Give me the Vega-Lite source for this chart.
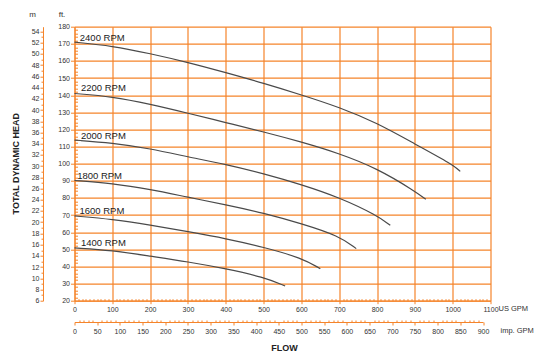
{
  "$schema": "https://vega.github.io/schema/vega-lite/v6.json",
  "width": 416,
  "height": 274,
  "autosize": {"type": "none"},
  "padding": {"left": 74.5, "top": 26.7, "right": 59.5, "bottom": 63.3},
  "background": "white",
  "title": {
    "text": "TOTAL DYNAMIC HEAD",
    "orient": "left",
    "anchor": "middle",
    "offset": 8,
    "font": "Liberation Sans",
    "fontSize": 9,
    "fontWeight": "bold",
    "color": "#222222"
  },
  "config": {
    "view": {"stroke": null},
    "axis": {
      "labelFont": "Liberation Sans",
      "labelFontSize": 7,
      "labelColor": "#333333",
      "titleFont": "Liberation Sans",
      "titleFontSize": 8,
      "titleFontWeight": "normal",
      "titleColor": "#333333",
      "domainColor": "#f5842a",
      "tickColor": "#f5842a",
      "gridColor": "#f5842a",
      "gridWidth": 1.2,
      "labelOverlap": false,
      "labelFlush": false
    }
  },
  "datasets": {
    "curves": [
      {"rpm": "2400", "gpm": 0, "ft": 171},
      {"rpm": "2400", "gpm": 100, "ft": 168.8},
      {"rpm": "2400", "gpm": 200, "ft": 164.3},
      {"rpm": "2400", "gpm": 300, "ft": 159.2},
      {"rpm": "2400", "gpm": 400, "ft": 153.2},
      {"rpm": "2400", "gpm": 500, "ft": 147},
      {"rpm": "2400", "gpm": 600, "ft": 140.2},
      {"rpm": "2400", "gpm": 700, "ft": 133},
      {"rpm": "2400", "gpm": 800, "ft": 123.8},
      {"rpm": "2400", "gpm": 900, "ft": 111.5},
      {"rpm": "2400", "gpm": 1000, "ft": 99.5},
      {"rpm": "2400", "gpm": 1020, "ft": 95.5},
      {"rpm": "2200", "gpm": 0, "ft": 141},
      {"rpm": "2200", "gpm": 100, "ft": 139.2},
      {"rpm": "2200", "gpm": 200, "ft": 134.8},
      {"rpm": "2200", "gpm": 300, "ft": 129.5},
      {"rpm": "2200", "gpm": 400, "ft": 124},
      {"rpm": "2200", "gpm": 500, "ft": 118.6},
      {"rpm": "2200", "gpm": 600, "ft": 112.7},
      {"rpm": "2200", "gpm": 700, "ft": 106},
      {"rpm": "2200", "gpm": 800, "ft": 97.3},
      {"rpm": "2200", "gpm": 900, "ft": 84},
      {"rpm": "2200", "gpm": 929, "ft": 79.2},
      {"rpm": "2000", "gpm": 0, "ft": 113.8},
      {"rpm": "2000", "gpm": 100, "ft": 112.2},
      {"rpm": "2000", "gpm": 200, "ft": 108.8},
      {"rpm": "2000", "gpm": 300, "ft": 104},
      {"rpm": "2000", "gpm": 400, "ft": 99.6},
      {"rpm": "2000", "gpm": 500, "ft": 94.2},
      {"rpm": "2000", "gpm": 600, "ft": 87.8},
      {"rpm": "2000", "gpm": 700, "ft": 80.3},
      {"rpm": "2000", "gpm": 800, "ft": 69.8},
      {"rpm": "2000", "gpm": 835, "ft": 64},
      {"rpm": "1800", "gpm": 0, "ft": 90.2},
      {"rpm": "1800", "gpm": 100, "ft": 88.5},
      {"rpm": "1800", "gpm": 200, "ft": 85},
      {"rpm": "1800", "gpm": 300, "ft": 80.4},
      {"rpm": "1800", "gpm": 400, "ft": 76.1},
      {"rpm": "1800", "gpm": 500, "ft": 71.2},
      {"rpm": "1800", "gpm": 600, "ft": 65},
      {"rpm": "1800", "gpm": 700, "ft": 57.8},
      {"rpm": "1800", "gpm": 745, "ft": 50.4},
      {"rpm": "1600", "gpm": 0, "ft": 69.5},
      {"rpm": "1600", "gpm": 100, "ft": 67.6},
      {"rpm": "1600", "gpm": 200, "ft": 64.2},
      {"rpm": "1600", "gpm": 300, "ft": 60.3},
      {"rpm": "1600", "gpm": 400, "ft": 56.3},
      {"rpm": "1600", "gpm": 500, "ft": 51.3},
      {"rpm": "1600", "gpm": 600, "ft": 45},
      {"rpm": "1600", "gpm": 650, "ft": 38.7},
      {"rpm": "1400", "gpm": 0, "ft": 50.8},
      {"rpm": "1400", "gpm": 100, "ft": 49.4},
      {"rpm": "1400", "gpm": 200, "ft": 46},
      {"rpm": "1400", "gpm": 300, "ft": 42.7},
      {"rpm": "1400", "gpm": 400, "ft": 38.7},
      {"rpm": "1400", "gpm": 500, "ft": 33.8},
      {"rpm": "1400", "gpm": 557, "ft": 28.6}
    ],
    "labels": [
      {"text": "2400 RPM", "gpm": 14, "ft": 173.2},
      {"text": "2200 RPM", "gpm": 17, "ft": 144},
      {"text": "2000 RPM", "gpm": 17, "ft": 116.3},
      {"text": "1800 RPM", "gpm": 7, "ft": 92.9},
      {"text": "1600 RPM", "gpm": 13, "ft": 72.2},
      {"text": "1400 RPM", "gpm": 17, "ft": 53.9}
    ],
    "frame": [
      {"imp": 0, "m": 6},
      {"imp": 900, "m": 54.864}
    ]
  },
  "layer": [
    {
      "data": {"name": "curves"},
      "mark": {"type": "line", "interpolate": "basis", "stroke": "#4a4a4a", "strokeWidth": 1.2},
      "encoding": {
        "x": {
          "field": "gpm", "type": "quantitative",
          "scale": {"domain": [0, 1100], "nice": false, "zero": false},
          "axis": {
            "orient": "bottom",
            "format": "d",
            "values": [0,10,20,30,40,50,60,70,80,90,100,110,120,130,140,150,160,170,180,190,200,210,220,230,240,250,260,270,280,290,300,310,320,330,340,350,360,370,380,390,400,410,420,430,440,450,460,470,480,490,500,510,520,530,540,550,560,570,580,590,600,610,620,630,640,650,660,670,680,690,700,710,720,730,740,750,760,770,780,790,800,810,820,830,840,850,860,870,880,890,900,910,920,930,940,950,960,970,980,990,1000,1010,1020,1030,1040,1050,1060,1070,1080,1090,1100],
            "labelExpr": "datum.value % 100 === 0 ? datum.label : ''",
            "gridOpacity": {"condition": {"test": "datum.value % 100 === 0", "value": 1}, "value": 0},
            "tickSize": {"condition": {"test": "datum.value % 100 === 0", "value": 3}, "value": -2},
            "labelPadding": 2,
            "title": "US GPM",
            "titleX": 423.5, "titleY": 8, "titleAlign": "left", "titleBaseline": "middle",
            "titleFontSize": 7.5
          }
        },
        "y": {
          "field": "ft", "type": "quantitative",
          "scale": {"domain": [20, 180], "nice": false, "zero": false},
          "axis": {
            "orient": "left",
            "format": "d",
            "values": [20,22,24,26,28,30,32,34,36,38,40,42,44,46,48,50,52,54,56,58,60,62,64,66,68,70,72,74,76,78,80,82,84,86,88,90,92,94,96,98,100,102,104,106,108,110,112,114,116,118,120,122,124,126,128,130,132,134,136,138,140,142,144,146,148,150,152,154,156,158,160,162,164,166,168,170,172,174,176,178,180],
            "labelExpr": "datum.value % 10 === 0 ? datum.label : ''",
            "gridOpacity": {"condition": {"test": "datum.value % 10 === 0", "value": 1}, "value": 0},
            "tickSize": {"condition": {"test": "datum.value % 10 === 0", "value": 4}, "value": -3},
            "labelPadding": 1,
            "title": "ft.",
            "titleAngle": 0, "titleX": -13, "titleY": -12, "titleAlign": "center", "titleBaseline": "middle"
          }
        },
        "detail": {"field": "rpm", "type": "nominal"}
      }
    },
    {
      "data": {"name": "labels"},
      "mark": {"type": "text", "align": "left", "baseline": "middle", "font": "Liberation Sans", "fontSize": 9.5, "color": "#222222"},
      "encoding": {
        "x": {"field": "gpm", "type": "quantitative", "scale": {"domain": [0, 1100], "nice": false, "zero": false}, "axis": null},
        "y": {"field": "ft", "type": "quantitative", "scale": {"domain": [20, 180], "nice": false, "zero": false}, "axis": null},
        "text": {"field": "text"}
      }
    },
    {
      "data": {"name": "frame"},
      "mark": {"type": "point", "opacity": 0},
      "encoding": {
        "x": {
          "field": "imp", "type": "quantitative",
          "scale": {"domain": [0, 900], "range": [0, 408.5], "nice": false, "zero": false},
          "axis": {
            "orient": "bottom",
            "format": "d",
            "offset": 21.3,
            "values": [0,10,20,30,40,50,60,70,80,90,100,110,120,130,140,150,160,170,180,190,200,210,220,230,240,250,260,270,280,290,300,310,320,330,340,350,360,370,380,390,400,410,420,430,440,450,460,470,480,490,500,510,520,530,540,550,560,570,580,590,600,610,620,630,640,650,660,670,680,690,700,710,720,730,740,750,760,770,780,790,800,810,820,830,840,850,860,870,880,890,900],
            "labelExpr": "datum.value % 50 === 0 ? datum.label : ''",
            "grid": false,
            "tickSize": {"condition": {"test": "datum.value % 50 === 0", "value": 3}, "value": -2},
            "labelPadding": 2,
            "title": "imp. GPM",
            "titleX": 425.5, "titleY": 8, "titleAlign": "left", "titleBaseline": "middle",
            "titleFontSize": 7.5
          }
        },
        "y": {
          "field": "m", "type": "quantitative",
          "scale": {"domain": [6, 54.864], "nice": false, "zero": false},
          "axis": {
            "orient": "left",
            "format": "d",
            "offset": 31.5,
            "values": [6,6.5,7,7.5,8,8.5,9,9.5,10,10.5,11,11.5,12,12.5,13,13.5,14,14.5,15,15.5,16,16.5,17,17.5,18,18.5,19,19.5,20,20.5,21,21.5,22,22.5,23,23.5,24,24.5,25,25.5,26,26.5,27,27.5,28,28.5,29,29.5,30,30.5,31,31.5,32,32.5,33,33.5,34,34.5,35,35.5,36,36.5,37,37.5,38,38.5,39,39.5,40,40.5,41,41.5,42,42.5,43,43.5,44,44.5,45,45.5,46,46.5,47,47.5,48,48.5,49,49.5,50,50.5,51,51.5,52,52.5,53,53.5,54,54.5],
            "labelExpr": "datum.value % 2 === 0 ? datum.label : ''",
            "grid": false,
            "tickSize": {"condition": {"test": "datum.value % 2 === 0", "value": 3}, "value": 2},
            "labelPadding": 1,
            "title": "m",
            "titleAngle": 0, "titleX": -11, "titleY": -12, "titleAlign": "center", "titleBaseline": "middle"
          }
        }
      }
    },
    {
      "data": {"name": "frame"},
      "mark": {"type": "point", "opacity": 0},
      "encoding": {
        "x": {
          "field": "imp", "type": "quantitative",
          "axis": {
            "orient": "bottom",
            "domain": false, "ticks": false, "labels": false, "grid": false,
            "title": "FLOW",
            "titleX": 209.5, "titleY": 47, "titleAlign": "center", "titleBaseline": "middle",
            "titleFontWeight": "bold", "titleFontSize": 9, "titleColor": "#222222"
          }
        },
        "y": {"field": "m", "type": "quantitative", "axis": null}
      }
    }
  ],
  "resolve": {"scale": {"x": "independent", "y": "independent"}}
}
